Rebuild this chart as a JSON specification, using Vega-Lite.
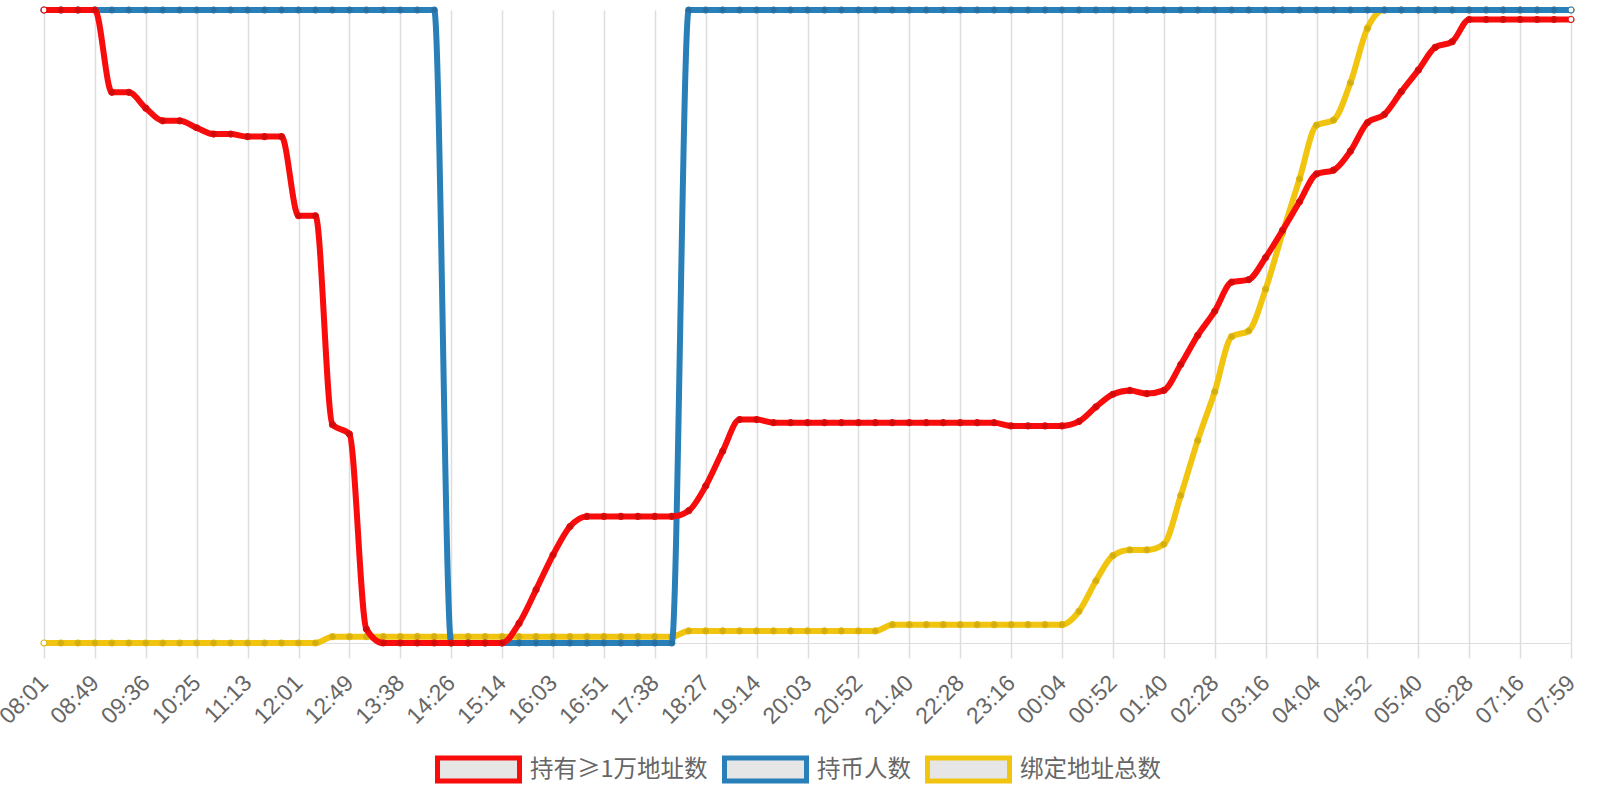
{
  "$schema": "https://vega.github.io/schema/vega-lite/v6.json",
  "width": 1527,
  "height": 633,
  "autosize": {"type": "none"},
  "padding": {"left": 44, "top": 10, "right": 29, "bottom": 157},
  "background": "white",
  "config": {
    "view": {"stroke": null},
    "axis": {"labelFont": "Liberation Sans", "labelColor": "#666666", "labelFontSize": 23}
  },
  "datasets": {
    "main": [
      {"t": "08:01", "large": 1, "holders": 1, "bound": 0},
      {"t": "08:17", "large": 1, "holders": 1, "bound": 0},
      {"t": "08:33", "large": 1, "holders": 1, "bound": 0},
      {"t": "08:49", "large": 1, "holders": 1, "bound": 0},
      {"t": "09:05", "large": 0.87, "holders": 1, "bound": 0},
      {"t": "09:20", "large": 0.87, "holders": 1, "bound": 0},
      {"t": "09:36", "large": 0.845, "holders": 1, "bound": 0},
      {"t": "09:52", "large": 0.825, "holders": 1, "bound": 0},
      {"t": "10:09", "large": 0.825, "holders": 1, "bound": 0},
      {"t": "10:25", "large": 0.814, "holders": 1, "bound": 0},
      {"t": "10:41", "large": 0.804, "holders": 1, "bound": 0},
      {"t": "10:57", "large": 0.804, "holders": 1, "bound": 0},
      {"t": "11:13", "large": 0.8, "holders": 1, "bound": 0},
      {"t": "11:29", "large": 0.8, "holders": 1, "bound": 0},
      {"t": "11:45", "large": 0.8, "holders": 1, "bound": 0},
      {"t": "12:01", "large": 0.675, "holders": 1, "bound": 0},
      {"t": "12:17", "large": 0.675, "holders": 1, "bound": 0},
      {"t": "12:33", "large": 0.345, "holders": 1, "bound": 0.01},
      {"t": "12:49", "large": 0.33, "holders": 1, "bound": 0.01},
      {"t": "13:05", "large": 0.022, "holders": 1, "bound": 0.01},
      {"t": "13:22", "large": 0, "holders": 1, "bound": 0.01},
      {"t": "13:38", "large": 0, "holders": 1, "bound": 0.01},
      {"t": "13:54", "large": 0, "holders": 1, "bound": 0.01},
      {"t": "14:10", "large": 0, "holders": 1, "bound": 0.01},
      {"t": "14:26", "large": 0, "holders": 0, "bound": 0.01},
      {"t": "14:42", "large": 0, "holders": 0, "bound": 0.01},
      {"t": "14:58", "large": 0, "holders": 0, "bound": 0.01},
      {"t": "15:14", "large": 0, "holders": 0, "bound": 0.01},
      {"t": "15:30", "large": 0.031, "holders": 0, "bound": 0.01},
      {"t": "15:47", "large": 0.084, "holders": 0, "bound": 0.01},
      {"t": "16:03", "large": 0.139, "holders": 0, "bound": 0.01},
      {"t": "16:19", "large": 0.184, "holders": 0, "bound": 0.01},
      {"t": "16:35", "large": 0.2, "holders": 0, "bound": 0.01},
      {"t": "16:51", "large": 0.2, "holders": 0, "bound": 0.01},
      {"t": "17:06", "large": 0.2, "holders": 0, "bound": 0.01},
      {"t": "17:22", "large": 0.2, "holders": 0, "bound": 0.01},
      {"t": "17:38", "large": 0.2, "holders": 0, "bound": 0.01},
      {"t": "17:54", "large": 0.2, "holders": 0, "bound": 0.01},
      {"t": "18:11", "large": 0.209, "holders": 1, "bound": 0.019},
      {"t": "18:27", "large": 0.248, "holders": 1, "bound": 0.019},
      {"t": "18:43", "large": 0.303, "holders": 1, "bound": 0.019},
      {"t": "18:58", "large": 0.353, "holders": 1, "bound": 0.019},
      {"t": "19:14", "large": 0.353, "holders": 1, "bound": 0.019},
      {"t": "19:30", "large": 0.348, "holders": 1, "bound": 0.019},
      {"t": "19:47", "large": 0.348, "holders": 1, "bound": 0.019},
      {"t": "20:03", "large": 0.348, "holders": 1, "bound": 0.019},
      {"t": "20:19", "large": 0.348, "holders": 1, "bound": 0.019},
      {"t": "20:36", "large": 0.348, "holders": 1, "bound": 0.019},
      {"t": "20:52", "large": 0.348, "holders": 1, "bound": 0.019},
      {"t": "21:08", "large": 0.348, "holders": 1, "bound": 0.019},
      {"t": "21:24", "large": 0.348, "holders": 1, "bound": 0.029},
      {"t": "21:40", "large": 0.348, "holders": 1, "bound": 0.029},
      {"t": "21:56", "large": 0.348, "holders": 1, "bound": 0.029},
      {"t": "22:12", "large": 0.348, "holders": 1, "bound": 0.029},
      {"t": "22:28", "large": 0.348, "holders": 1, "bound": 0.029},
      {"t": "22:44", "large": 0.348, "holders": 1, "bound": 0.029},
      {"t": "23:00", "large": 0.348, "holders": 1, "bound": 0.029},
      {"t": "23:16", "large": 0.343, "holders": 1, "bound": 0.029},
      {"t": "23:32", "large": 0.343, "holders": 1, "bound": 0.029},
      {"t": "23:48", "large": 0.343, "holders": 1, "bound": 0.029},
      {"t": "00:04", "large": 0.343, "holders": 1, "bound": 0.029},
      {"t": "00:20", "large": 0.35, "holders": 1, "bound": 0.05},
      {"t": "00:36", "large": 0.373, "holders": 1, "bound": 0.098},
      {"t": "00:52", "large": 0.393, "holders": 1, "bound": 0.138},
      {"t": "01:08", "large": 0.399, "holders": 1, "bound": 0.147},
      {"t": "01:24", "large": 0.394, "holders": 1, "bound": 0.147},
      {"t": "01:40", "large": 0.399, "holders": 1, "bound": 0.156},
      {"t": "01:56", "large": 0.44, "holders": 1, "bound": 0.233},
      {"t": "02:12", "large": 0.486, "holders": 1, "bound": 0.32},
      {"t": "02:28", "large": 0.524, "holders": 1, "bound": 0.397},
      {"t": "02:44", "large": 0.57, "holders": 1, "bound": 0.484},
      {"t": "03:00", "large": 0.574, "holders": 1, "bound": 0.493},
      {"t": "03:16", "large": 0.609, "holders": 1, "bound": 0.559},
      {"t": "03:32", "large": 0.652, "holders": 1, "bound": 0.648},
      {"t": "03:48", "large": 0.697, "holders": 1, "bound": 0.733},
      {"t": "04:04", "large": 0.741, "holders": 1, "bound": 0.818},
      {"t": "04:20", "large": 0.747, "holders": 1, "bound": 0.826},
      {"t": "04:36", "large": 0.777, "holders": 1, "bound": 0.885},
      {"t": "04:52", "large": 0.822, "holders": 1, "bound": 0.971},
      {"t": "05:08", "large": 0.835, "holders": 1, "bound": 1},
      {"t": "05:24", "large": 0.871, "holders": 1, "bound": 1},
      {"t": "05:40", "large": 0.905, "holders": 1, "bound": 1},
      {"t": "05:56", "large": 0.941, "holders": 1, "bound": 1},
      {"t": "06:12", "large": 0.95, "holders": 1, "bound": 1},
      {"t": "06:28", "large": 0.985, "holders": 1, "bound": 1},
      {"t": "06:44", "large": 0.985, "holders": 1, "bound": 1},
      {"t": "07:00", "large": 0.985, "holders": 1, "bound": 1},
      {"t": "07:16", "large": 0.985, "holders": 1, "bound": 1},
      {"t": "07:30", "large": 0.985, "holders": 1, "bound": 1},
      {"t": "07:45", "large": 0.985, "holders": 1, "bound": 1},
      {"t": "07:59", "large": 0.985, "holders": 1, "bound": 1}
    ]
  },
  "data": {"name": "main"},
  "encoding": {
    "x": {
      "field": "t",
      "type": "ordinal",
      "sort": null,
      "title": null,
      "scale": {"type": "point", "padding": 0},
      "axis": {
        "values": ["08:01", "08:49", "09:36", "10:25", "11:13", "12:01", "12:49", "13:38", "14:26", "15:14", "16:03", "16:51", "17:38", "18:27", "19:14", "20:03", "20:52", "21:40", "22:28", "23:16", "00:04", "00:52", "01:40", "02:28", "03:16", "04:04", "04:52", "05:40", "06:28", "07:16", "07:59"],
        "labelAngle": -45,
        "labelAlign": "right",
        "labelBaseline": "middle",
        "labelPadding": 21,
        "labelOverlap": false,
        "labelFlush": false,
        "grid": true,
        "gridColor": "#dedede",
        "gridWidth": 1.5,
        "ticks": true,
        "tickSize": 15,
        "tickColor": "#dedede",
        "tickWidth": 1.5,
        "domainColor": "#dedede"
      }
    }
  },
  "layer": [
    {
      "mark": {"type": "line", "interpolate": "monotone", "strokeWidth": 6, "strokeJoin": "round"},
      "encoding": {
        "y": {
          "field": "bound",
          "type": "quantitative",
          "scale": {"domain": [0, 1], "nice": false},
          "axis": {"title": null, "labels": false, "ticks": false, "grid": false, "domainColor": "#c8c8c8", "domainWidth": 1.5}
        },
        "color": {
          "datum": "绑定地址总数",
          "type": "nominal",
          "scale": {
            "domain": ["持有≥1万地址数", "持币人数", "绑定地址总数"],
            "range": ["#f80c0c", "#2980b9", "#f1c40f"]
          },
          "legend": {
            "title": null,
            "orient": "none",
            "direction": "horizontal",
            "legendX": 391,
            "legendY": 716,
            "symbolType": "M-1,-0.28H1V0.28H-1Z",
            "symbolSize": 6724,
            "symbolStrokeWidth": 5,
            "symbolFillColor": "#e6e6e6",
            "labelFont": "Noto Sans CJK SC",
            "labelFontSize": 23.5,
            "labelColor": "#666666",
            "labelLimit": 400,
            "labelOffset": 8,
            "columnPadding": 6
          }
        }
      }
    },
    {
      "mark": {"type": "point", "filled": true, "size": 36, "strokeWidth": 1.2},
      "encoding": {
        "y": {"field": "bound", "type": "quantitative", "scale": {"domain": [0, 1], "nice": false}, "axis": null},
        "fill": {"condition": {"test": "datum.t === '08:01' || datum.t === '07:59'", "value": "white"}, "value": "#d2ad12"},
        "stroke": {"value": "#deb60f"},
        "opacity": {"value": 1}
      }
    },
    {
      "mark": {"type": "line", "interpolate": "monotone", "strokeWidth": 6, "strokeJoin": "round"},
      "encoding": {
        "y": {"field": "holders", "type": "quantitative", "scale": {"domain": [0, 1], "nice": false}, "axis": null},
        "color": {"datum": "持币人数", "type": "nominal"}
      }
    },
    {
      "mark": {"type": "point", "filled": true, "size": 36, "strokeWidth": 1.2},
      "encoding": {
        "y": {"field": "holders", "type": "quantitative", "scale": {"domain": [0, 1], "nice": false}, "axis": null},
        "fill": {"condition": {"test": "datum.t === '07:59'", "value": "white"}, "value": "#276e9f"},
        "stroke": {"value": "#2978af"},
        "opacity": {"value": 1}
      }
    },
    {
      "mark": {"type": "line", "interpolate": "monotone", "strokeWidth": 6, "strokeJoin": "round"},
      "encoding": {
        "y": {"field": "large", "type": "quantitative", "scale": {"domain": [0, 1], "nice": false}, "axis": null},
        "color": {"datum": "持有≥1万地址数", "type": "nominal"}
      }
    },
    {
      "mark": {"type": "point", "filled": true, "size": 36, "strokeWidth": 1.2},
      "encoding": {
        "y": {"field": "large", "type": "quantitative", "scale": {"domain": [0, 1], "nice": false}, "axis": null},
        "fill": {"condition": {"test": "datum.t === '08:01' || datum.t === '07:59'", "value": "white"}, "value": "#cf0c0c"},
        "stroke": {"value": "#e40c0c"},
        "opacity": {"value": 1}
      }
    }
  ]
}
